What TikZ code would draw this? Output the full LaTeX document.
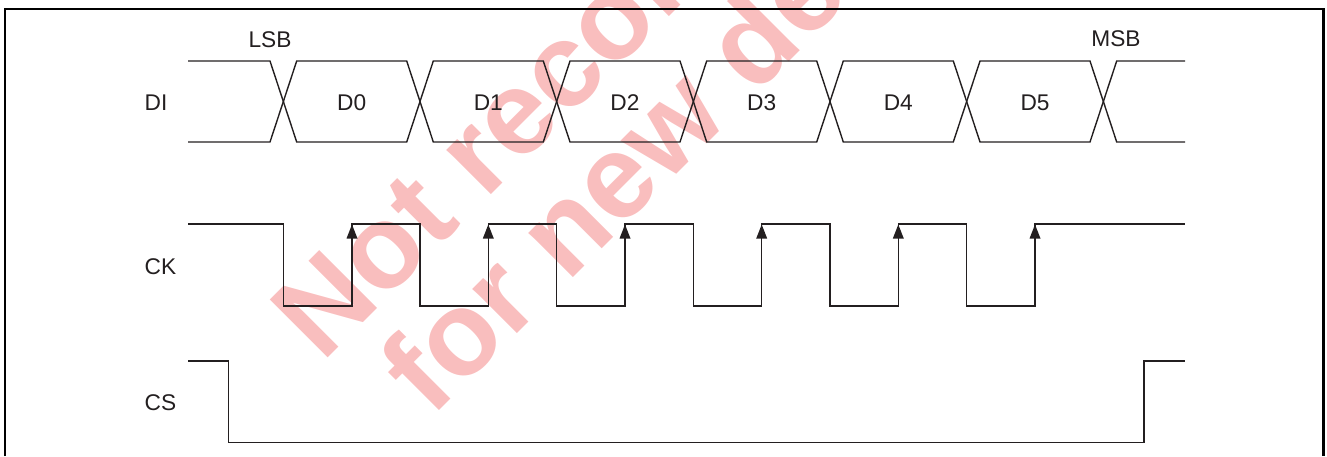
\documentclass[tikz,border=0pt]{standalone}
\usepackage{fontspec}
\setmainfont{Liberation Sans}
\definecolor{ink}{RGB}{35,31,32}
\definecolor{wm}{RGB}{249,190,190}
\tikzset{
  sig/.style={draw=ink, line width=1.4pt, line join=miter},
  frame/.style={draw=black, line width=2.4pt},
  lbl/.style={inner sep=0pt, anchor=base, text=ink, font=\fontsize{22.7}{27}\selectfont},
  rlbl/.style={lbl, anchor=base west},
  wmark/.style={inner sep=0pt, anchor=base west, rotate=45, text=wm, font=\fontsize{119}{119}\selectfont\bfseries},
  tip/.style={fill=ink, draw=none}
}
\begin{document}
\begin{tikzpicture}[x=1pt, y=-1pt]
\useasboundingbox (0,0) rectangle (1327,456);
% watermark
\begin{scope}
\clip (0,0) rectangle (1327,456);
\node[wmark] (wm1) at (322,364) {Not recommended};
\node[wmark] (wm2) at (431.5,419) {for new design};
\end{scope}
% frame
\draw[frame] (5,456) -- (5,9) -- (1323.5,9) -- (1323.5,456);
% labels
\node[rlbl] (lDI) at (144.5,110.5) {DI};
\node[rlbl] (lCK) at (144.5,274) {CK};
\node[rlbl] (lCS) at (144.5,410) {CS};
\node[lbl] (lsb) at (270,47) {LSB};
\node[lbl] (msb) at (1116,46.5) {MSB};
\node[lbl] (d0) at (351.7,110.5) {D0};
\node[lbl] (d1) at (488.3,110.5) {D1};
\node[lbl] (d2) at (625,110.5) {D2};
\node[lbl] (d3) at (761.7,110.5) {D3};
\node[lbl] (d4) at (898.3,110.5) {D4};
\node[lbl] (d5) at (1035,110.5) {D5};
% DI bus
\draw[sig] (188,61) -- (270,61) -- (296.7,142) -- (406.7,142) -- (433.3,61) -- (543.3,61) -- (570,142) -- (680,142) -- (706.7,61) -- (816.7,61) -- (843.3,142) -- (953.3,142) -- (980,61) -- (1090,61) -- (1116.7,142) -- (1185,142);
\draw[sig] (188,142) -- (270,142) -- (296.7,61) -- (406.7,61) -- (433.3,142) -- (543.3,142) -- (570,61) -- (680,61) -- (706.7,142) -- (816.7,142) -- (843.3,61) -- (953.3,61) -- (980,142) -- (1090,142) -- (1116.7,61) -- (1185,61);
% CK
\draw[sig] (188,224) -- (283.3,224) -- (283.3,306) -- (352,306) -- (352,224) -- (420,224) -- (420,306) -- (488.3,306) -- (488.3,224) -- (556.7,224) -- (556.7,306) -- (625,306) -- (625,224) -- (693.3,224) -- (693.3,306) -- (761.7,306) -- (761.7,224) -- (830,224) -- (830,306) -- (898.3,306) -- (898.3,224) -- (966.7,224) -- (966.7,306) -- (1035,306) -- (1035,224) -- (1185,224);
\foreach \x in {352,488.3,625,761.7,898.3,1035}{
  \fill[tip] (\x,224.5) -- (\x-5.5,238.5) -- (\x+5.5,238.5) -- cycle;
}
% CS
\draw[sig] (188,361) -- (228.7,361) -- (228.7,442.7) -- (1144,442.7) -- (1144,361) -- (1185,361);
\end{tikzpicture}
\end{document}
